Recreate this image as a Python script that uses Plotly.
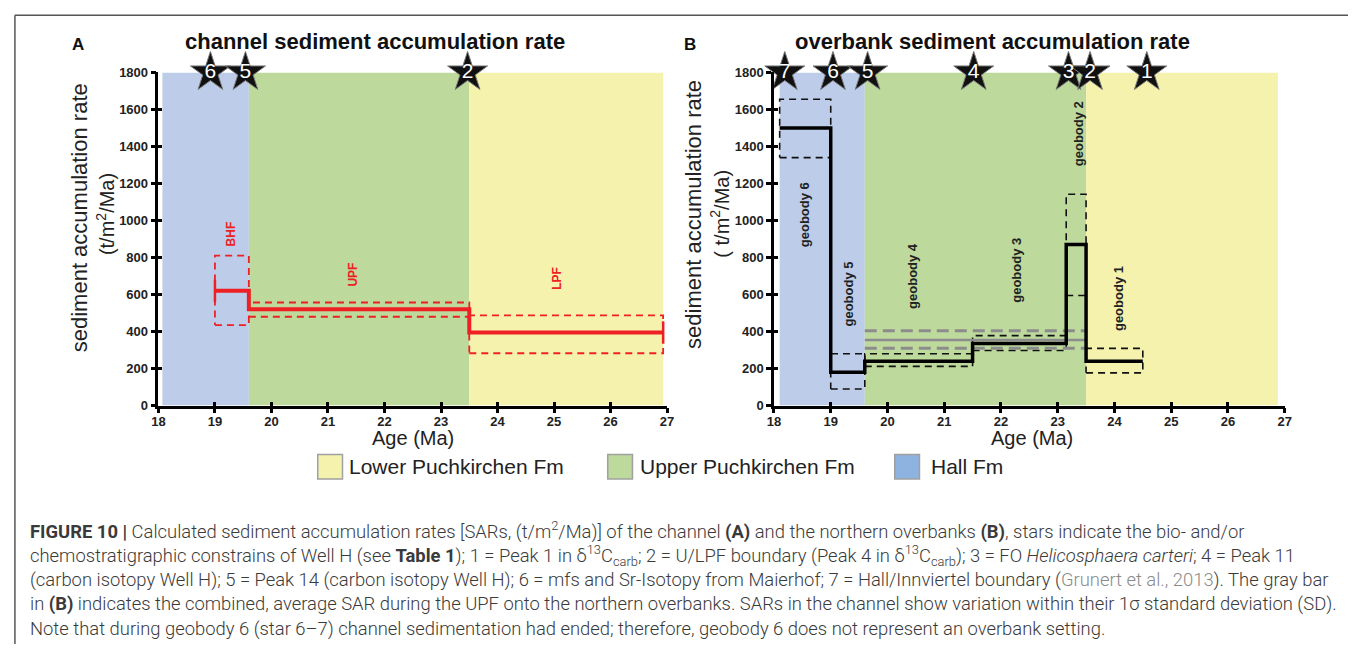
import plotly.graph_objects as go

W, H = 1355, 652


def px(x):
    return x / W


def py(y):
    return 1 - y / H


# ---------------- data ----------------
formations = ["Hall Fm", "Upper Puchkirchen Fm", "Lower Puchkirchen Fm"]
bandA_start = [18.07, 19.6, 23.5]
bandA_end = [19.6, 23.5, 26.93]
bandB_start = [18.1, 19.6, 23.5]
bandB_end = [19.6, 23.5, 26.88]
band_top = 1800

# channel (panel A)
chan_units = ["BHF", "UPF", "LPF"]
chan_edges = [19.0, 19.6, 23.5, 26.93]
chan_sar = [620, 520, 395]
chan_sd_lo = [435, 480, 283]
chan_sd_hi = [810, 557, 488]
chan_label_x = [19.3, 21.45, 25.05]
chan_label_y = [930, 710, 690]

# overbank (panel B)
ob_units = ["geobody 6", "geobody 5", "geobody 4", "geobody 3", "geobody 2", "geobody 1"]
ob_edges = [18.1, 19.0, 19.6, 21.5, 23.15, 23.5, 24.5]
ob_sar = [1500, 180, 240, 335, 870, 240]
ob_sd_lo = [1340, 90, 212, 298, 595, 177]
ob_sd_hi = [1655, 280, 280, 378, 1142, 309]
ob_label_x = [18.55, 19.32, 20.43, 22.27, 23.37, 24.07]
ob_label_y = [1030, 605, 700, 730, 1470, 578]

# combined UPF overbank average (gray bar)
upf_x = [19.6, 23.5]
upf_mean = 355
upf_lo = 310
upf_hi = 405

# stratigraphic constraint stars
starsA_id = ["6", "5", "2"]
starsA_x = [18.92, 19.54, 23.47]
starsB_id = ["7", "6", "5", "4", "3", "2", "1"]
starsB_x = [18.19, 19.04, 19.65, 21.52, 23.19, 23.57, 24.57]
star_y = 1800

x_ticks = list(range(18, 28))
y_ticks = list(range(0, 1801, 200))

# ---------------- styles ----------------
band_colors = {"Hall Fm": "#bdcde9", "Upper Puchkirchen Fm": "#bdd99c",
               "Lower Puchkirchen Fm": "#f5f2ae"}
legend_order = ["Lower Puchkirchen Fm", "Upper Puchkirchen Fm", "Hall Fm"]
legend_colors = {"Lower Puchkirchen Fm": "#f5f2ae", "Upper Puchkirchen Fm": "#bdd99c",
                 "Hall Fm": "#8fb3e0"}
RED = "#ee2024"
SANS = "Liberation Sans"

fig = go.Figure()
shapes = []
annotations = []


def add_bands(xref, yref, starts, ends):
    for name, x0, x1 in zip(formations, starts, ends):
        shapes.append(dict(type="rect", xref=xref, yref=yref, x0=x0, x1=x1, y0=0, y1=band_top,
                           fillcolor=band_colors[name], line=dict(width=0), layer="below"))


add_bands("x", "y", bandA_start, bandA_end)
add_bands("x2", "y2", bandB_start, bandB_end)


def box_trace(x0, x1, lo, hi, color, xa, ya, width=1.6):
    return go.Scatter(x=[x0, x1, x1, x0, x0], y=[lo, lo, hi, hi, lo], mode="lines",
                      line=dict(color=color, width=width, dash="7px,5px"),
                      xaxis=xa, yaxis=ya, hoverinfo="skip", showlegend=False, cliponaxis=False)


# ---- panel A ----
for i in range(len(chan_sar)):
    fig.add_trace(box_trace(chan_edges[i], chan_edges[i + 1], chan_sd_lo[i], chan_sd_hi[i],
                            RED, "x", "y", 1.8))
fig.add_trace(go.Scatter(x=chan_edges, y=chan_sar + [chan_sar[-1]], mode="lines",
                         line=dict(color=RED, width=4, shape="hv"), xaxis="x", yaxis="y",
                         hoverinfo="skip", showlegend=False))
fig.add_trace(go.Scatter(x=[chan_edges[0], chan_edges[-1]], y=[chan_sar[0], chan_sar[-1]],
                         mode="markers", marker=dict(symbol="line-ns", size=16,
                                                     line=dict(color=RED, width=2.5)),
                         xaxis="x", yaxis="y", hoverinfo="skip", showlegend=False,
                         cliponaxis=False))
for name, lx, ly in zip(chan_units, chan_label_x, chan_label_y):
    annotations.append(dict(xref="x", yref="y", x=lx, y=ly, text="<b>%s</b>" % name,
                            textangle=-90, showarrow=False,
                            font=dict(family=SANS, size=12, color=RED)))

# ---- panel B ----
for i in range(len(ob_sar)):
    fig.add_trace(box_trace(ob_edges[i], ob_edges[i + 1], ob_sd_lo[i], ob_sd_hi[i],
                            "#111111", "x2", "y2", 1.6))
fig.add_trace(go.Scatter(x=upf_x, y=[upf_mean, upf_mean], mode="lines",
                         line=dict(color="#8c8c8c", width=2.5), xaxis="x2", yaxis="y2",
                         hoverinfo="skip", showlegend=False))
for yv in (upf_lo, upf_hi):
    fig.add_trace(go.Scatter(x=upf_x, y=[yv, yv], mode="lines",
                             line=dict(color="#8c8c8c", width=3, dash="12px,6px"),
                             xaxis="x2", yaxis="y2", hoverinfo="skip", showlegend=False))
fig.add_trace(go.Scatter(x=ob_edges, y=ob_sar + [ob_sar[-1]], mode="lines",
                         line=dict(color="black", width=3.5, shape="hv"), xaxis="x2", yaxis="y2",
                         hoverinfo="skip", showlegend=False))
for name, lx, ly in zip(ob_units, ob_label_x, ob_label_y):
    annotations.append(dict(xref="x2", yref="y2", x=lx, y=ly, text="<b>%s</b>" % name,
                            textangle=-90, showarrow=False,
                            font=dict(family=SANS, size=13, color="#222222")))


# ---- stars ----
def star_trace(xs, ids, xa, ya):
    return go.Scatter(x=xs, y=[star_y] * len(xs), mode="markers+text", text=ids,
                      textposition="middle center",
                      textfont=dict(family=SANS, size=21, color="white"),
                      marker=dict(symbol="star", size=30, color="#111111",
                                  line=dict(color="#777777", width=1)),
                      xaxis=xa, yaxis=ya, hoverinfo="skip", showlegend=False, cliponaxis=False)


fig.add_trace(star_trace(starsA_x, starsA_id, "x", "y"))
fig.add_trace(star_trace(starsB_x, starsB_id, "x2", "y2"))

# dummy traces for overlay axes (inside ticks -> crossing ticks)
fig.add_trace(go.Scatter(x=[None], y=[None], xaxis="x3", yaxis="y3", showlegend=False))
fig.add_trace(go.Scatter(x=[None], y=[None], xaxis="x4", yaxis="y4", showlegend=False))

# ---------------- axes ----------------
dom_xA = [px(153), px(667)]
dom_xB = [px(775), px(1291)]
dom_y = [py(408), py(67)]

base = dict(showline=True, linecolor="black", linewidth=2.5, ticks="outside", ticklen=5,
            tickwidth=2.5, tickcolor="black", showgrid=False, zeroline=False,
            tickfont=dict(family=SANS, size=13, color="#222222", weight="bold"))
xbase = dict(base, range=[18, 27], tickvals=x_ticks, ticklabelstandoff=-3)
ybase = dict(base, range=[0, 1800], tickvals=y_ticks)
inner = dict(showline=False, ticks="inside", ticklen=4, tickwidth=2.5, tickcolor="black",
             showticklabels=False, showgrid=False, zeroline=False)

fig.update_layout(
    xaxis=dict(xbase, domain=dom_xA, anchor="y"),
    yaxis=dict(ybase, domain=dom_y, anchor="x"),
    xaxis2=dict(xbase, domain=dom_xB, anchor="y2"),
    yaxis2=dict(ybase, domain=dom_y, anchor="x2"),
    xaxis3=dict(inner, overlaying="x", anchor="y3", range=[18, 27], tickvals=x_ticks),
    yaxis3=dict(inner, overlaying="y", anchor="x3", range=[0, 1800], tickvals=y_ticks),
    xaxis4=dict(inner, overlaying="x2", anchor="y4", range=[18, 27], tickvals=x_ticks),
    yaxis4=dict(inner, overlaying="y2", anchor="x4", range=[0, 1800], tickvals=y_ticks),
)


# ---------------- text ----------------
def ann(x, y, text, size, angle=0, xanchor="center", color="#111111", weight=None,
        family=SANS):
    f = dict(family=family, size=size, color=color)
    if weight:
        f["weight"] = weight
    annotations.append(dict(xref="paper", yref="paper", x=px(x), y=py(y), text=text,
                            showarrow=False, textangle=angle, xanchor=xanchor,
                            yanchor="middle", font=f, borderpad=0))


ann(372, 35, "<b>channel sediment accumulation rate</b>", 22)
ann(996, 35, "<b>overbank sediment accumulation rate</b>", 22)
ann(72, 38, "<b>A</b>", 17)
ann(690, 38, "<b>B</b>", 17)
ann(73, 216, "sediment accumulation rate", 22, angle=-90, color="#222222")
ann(99, 212, "(t/m<sup>2</sup>/Ma)", 20, angle=-90, color="#222222")
ann(693, 212, "sediment accumulation rate", 22, angle=-90, color="#222222")
ann(720, 212, "( t/m<sup>2</sup>/Ma)", 20, angle=-90, color="#222222")
ann(410, 441, "Age (Ma)", 20, color="#222222")
ann(1036, 441, "Age (Ma)", 20, color="#222222")

# legend (manual)
leg_sq_x = {"Lower Puchkirchen Fm": 314, "Upper Puchkirchen Fm": 607, "Hall Fm": 897}
leg_tx_x = {"Lower Puchkirchen Fm": 345, "Upper Puchkirchen Fm": 639, "Hall Fm": 933}
for name in legend_order:
    x0 = leg_sq_x[name]
    shapes.append(dict(type="rect", xref="paper", yref="paper", x0=px(x0), x1=px(x0 + 25),
                       y0=py(483), y1=py(458), fillcolor=legend_colors[name],
                       line=dict(color="#a0a0a0", width=1.5)))
    ann(leg_tx_x[name], 470, name, 21, xanchor="left", color="#222222")

# ---------------- caption ----------------
GRAY = "#8a8a8a"
caption = [
    "<b>FIGURE 10 |</b> Calculated sediment accumulation rates [SARs, (t/m<sup>2</sup>/Ma)] "
    "of the channel <b>(A)</b> and the northern overbanks <b>(B)</b>, stars indicate the bio- and/or",
    "chemostratigraphic constrains of Well H (see <b>Table 1</b>); 1 = Peak 1 in "
    "δ<sup>13</sup>C<sub>carb</sub>; 2 = U/LPF boundary (Peak 4 in δ<sup>13</sup>C<sub>carb</sub>); "
    "3 = FO <i>Helicosphaera carteri</i>; 4 = Peak 11",
    "(carbon isotopy Well H); 5 = Peak 14 (carbon isotopy Well H); 6 = mfs and Sr-Isotopy from "
    "Maierhof; 7 = Hall/Innviertel boundary (<span style='color:%s'>Grunert et al., 2013</span>). "
    "The gray bar" % GRAY,
    "in <b>(B)</b> indicates the combined, average SAR during the UPF onto the northern overbanks. "
    "SARs in the channel show variation within their 1σ standard deviation (SD).",
    "Note that during geobody 6 (star 6–7) channel sedimentation had ended; therefore, "
    "geobody 6 does not represent an overbank setting.",
]
cap_y = [536, 561, 586, 611, 637]
for line, yy in zip(caption, cap_y):
    ann(22, yy, line, 18.4, xanchor="left", color="#3a3a3a", weight=300, family="Roboto")

# frame lines
shapes.append(dict(type="line", xref="paper", yref="paper", x0=px(8), x1=1, y0=py(8.5),
                   y1=py(8.5), line=dict(color="#555555", width=1.5)))
shapes.append(dict(type="line", xref="paper", yref="paper", x0=px(8), x1=px(8), y0=py(8.5),
                   y1=0, line=dict(color="#555555", width=1.5)))

fig.update_layout(
    width=W, height=H, autosize=False,
    margin=dict(l=0, r=0, t=0, b=0, pad=0),
    paper_bgcolor="white", plot_bgcolor="rgba(0,0,0,0)",
    showlegend=False,
    shapes=shapes, annotations=annotations,
)

fig.write_html("out.html", config={"displayModeBar": False},
               post_script="document.body.style.margin='0';document.body.style.overflow='hidden';")
